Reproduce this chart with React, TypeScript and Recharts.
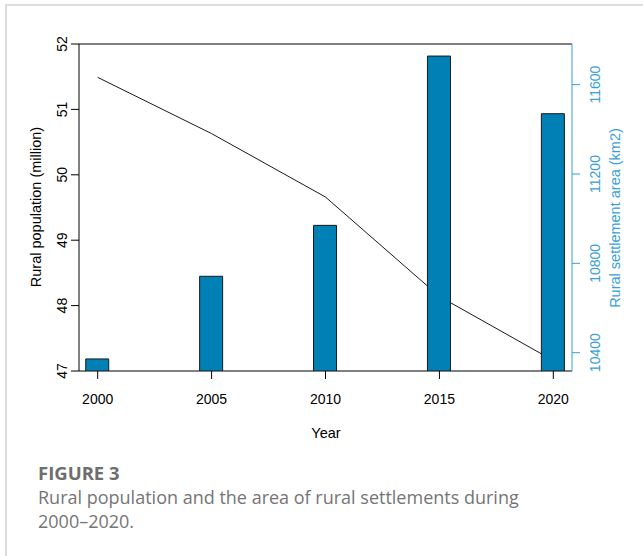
import React from 'react';
import { ComposedChart, Bar, Line, XAxis, YAxis, ReferenceLine } from 'recharts';

const years = [2000, 2005, 2010, 2015, 2020];
const population = [51.49, 50.63, 49.66, 48.14, 47.16];
const settlementArea = [10372, 10742, 10970, 11728, 11470];
const popTicks = [47, 48, 49, 50, 51, 52];
const areaTicks = [10400, 10800, 11200, 11600];

const data = years.map((year, i) => ({
  year,
  population: population[i],
  area: settlementArea[i],
}));

const BLUE = '#3a9fd6';
const BAR = '#0080b4';
const AXIS_FONT = '"Liberation Sans", Arial, sans-serif';
const CAPTION_FONT = '"Open Sans", sans-serif';

const W = 643;
const H = 450;
const MARGIN = { top: 44, right: 0, bottom: 0, left: 0 };
const X_DOMAIN: [number, number] = [1999.18, 2020.82];
const POP_DOMAIN: [number, number] = [47, 52];
const AREA_DOMAIN: [number, number] = [10318, 11782];

const XTick = (props: any) => {
  const { x, y, payload } = props;
  return (
    <text x={x} y={y + 23} textAnchor="middle" fontSize={14} fontFamily={AXIS_FONT} fill="#000">
      {payload.value}
    </text>
  );
};

const LeftTick = (props: any) => {
  const { x, y, payload } = props;
  const bx = x - 2;
  return (
    <text x={bx} y={y} transform={`rotate(-90, ${bx}, ${y})`} textAnchor="middle" fontSize={14} fontFamily={AXIS_FONT} fill="#000">
      {payload.value}
    </text>
  );
};

const RightTick = (props: any) => {
  const { x, y, payload } = props;
  const bx = x + 18;
  return (
    <text x={bx} y={y} transform={`rotate(-90, ${bx}, ${y})`} textAnchor="middle" fontSize={14} fontFamily={AXIS_FONT} fill={BLUE}>
      {payload.value}
    </text>
  );
};

// the bars sit in a second chart laid over the first, so they cover the population line
export default function App() {
  return (
    <div style={{ position: 'absolute', left: 0, top: 0, width: W, height: 556, background: '#fff', overflow: 'hidden' }}>
      <div style={{ position: 'absolute', left: 5, top: 4, width: 700, height: 600, borderLeft: '2px solid #dcdcdc', borderTop: '2px solid #dcdcdc' }} />
      <div style={{ position: 'absolute', left: 0, top: 0 }}>
        <ComposedChart width={W} height={H} data={data} margin={MARGIN}>
          <XAxis dataKey="year" type="number" domain={X_DOMAIN} ticks={years} tickSize={8} stroke="#000" tick={<XTick />} height={79} />
          <YAxis yAxisId="pop" orientation="left" width={79} domain={POP_DOMAIN} ticks={popTicks} tickSize={8} stroke="#000" tick={<LeftTick />} allowDataOverflow />
          <YAxis yAxisId="area" orientation="right" width={71} domain={AREA_DOMAIN} ticks={areaTicks} tickSize={8} stroke={BLUE} tick={<RightTick />} allowDataOverflow />
          <ReferenceLine yAxisId="pop" y={52} stroke="#000" strokeWidth={1} />
          <Line yAxisId="pop" dataKey="population" stroke="#1a1a1a" strokeWidth={1} dot={false} isAnimationActive={false} />
        </ComposedChart>
      </div>
      <div style={{ position: 'absolute', left: 0, top: 0 }}>
        <ComposedChart width={W} height={H} data={data} margin={MARGIN}>
          <XAxis dataKey="year" type="number" domain={X_DOMAIN} ticks={years} tick={false} axisLine={false} tickLine={false} height={79} />
          <YAxis yAxisId="pop" orientation="left" width={79} domain={POP_DOMAIN} tick={false} axisLine={false} tickLine={false} />
          <YAxis yAxisId="area" orientation="right" width={71} domain={AREA_DOMAIN} tick={false} axisLine={false} tickLine={false} allowDataOverflow />
          <Bar yAxisId="area" dataKey="area" barSize={23} fill={BAR} stroke="#1a1a1a" strokeWidth={1} isAnimationActive={false} />
        </ComposedChart>
      </div>
      <svg width={W} height={556} style={{ position: 'absolute', left: 0, top: 0, pointerEvents: 'none' }}>
        <text x={41} y={207} transform="rotate(-90, 41, 207)" textAnchor="middle" fontSize={14.5} fontFamily={AXIS_FONT} fill="#000">
          Rural population (million)
        </text>
        <text x={620} y={218} transform="rotate(-90, 620, 218)" textAnchor="middle" fontSize={14.5} fontFamily={AXIS_FONT} fill={BLUE}>
          Rural settlement area (km2)
        </text>
        <text x={326} y={438} textAnchor="middle" fontSize={14.5} fontFamily={AXIS_FONT} fill="#000">
          Year
        </text>
        <text x={38} y={480} fontSize={18.5} fontWeight={700} fontFamily={CAPTION_FONT} fill="#6e6e6e">
          FIGURE 3
        </text>
        <text x={38} y={504} fontSize={18} fontFamily={CAPTION_FONT} fill="#757575">
          Rural population and the area of rural settlements during
        </text>
        <text x={38} y={528} fontSize={18} fontFamily={CAPTION_FONT} fill="#757575">
          2000–2020.
        </text>
      </svg>
    </div>
  );
}
